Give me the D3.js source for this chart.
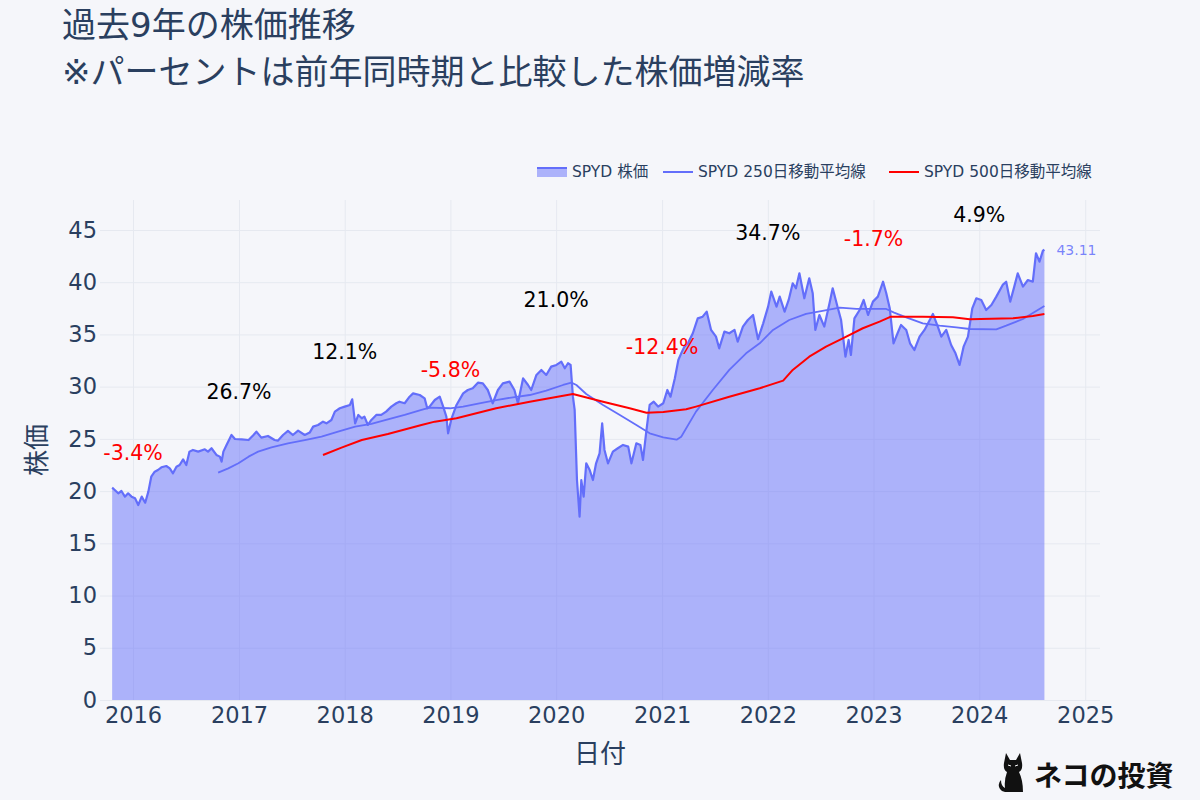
<!DOCTYPE html>
<html><head><meta charset="utf-8">
<script src="https://cdn.jsdelivr.net/npm/d3@7"></script>
<style>
html,body{margin:0;padding:0;background:#f5f6fa;}
svg{display:block;font-family:"DejaVu Sans","Noto Sans CJK JP",sans-serif;}
</style></head><body>
<svg id="chart" width="1200" height="800"></svg>
<script>
// ---------- data ----------
const priceDates = ["2015-10-21","2015-10-30","2015-11-11","2015-11-22","2015-12-04","2015-12-15","2015-12-27","2016-01-08","2016-01-19","2016-01-31","2016-02-12","2016-02-23","2016-03-04","2016-03-16","2016-03-27","2016-04-08","2016-04-25","2016-05-07","2016-05-18","2016-05-30","2016-06-10","2016-06-22","2016-07-03","2016-07-14","2016-07-26","2016-08-13","2016-09-05","2016-09-16","2016-09-28","2016-10-15","2016-10-27","2016-11-02","2016-11-08","2016-11-19","2016-12-06","2016-12-18","2017-01-10","2017-02-03","2017-02-20","2017-03-02","2017-03-19","2017-04-11","2017-05-04","2017-05-15","2017-06-02","2017-06-19","2017-07-06","2017-07-24","2017-08-16","2017-09-02","2017-09-14","2017-10-01","2017-10-18","2017-10-30","2017-11-16","2017-11-28","2017-12-15","2018-01-01","2018-01-19","2018-01-27","2018-02-06","2018-02-17","2018-03-01","2018-03-10","2018-03-22","2018-04-03","2018-04-20","2018-05-07","2018-05-24","2018-06-11","2018-06-28","2018-07-09","2018-07-27","2018-08-13","2018-08-25","2018-09-17","2018-10-04","2018-10-13","2018-10-21","2018-11-08","2018-11-25","2018-12-07","2018-12-18","2018-12-24","2019-01-05","2019-01-22","2019-02-14","2019-03-02","2019-03-19","2019-04-06","2019-04-23","2019-05-10","2019-05-27","2019-06-14","2019-07-01","2019-07-24","2019-08-10","2019-08-22","2019-09-09","2019-09-26","2019-10-07","2019-10-25","2019-11-11","2019-11-28","2019-12-15","2020-01-02","2020-01-19","2020-01-31","2020-02-11","2020-02-20","2020-02-28","2020-03-05","2020-03-13","2020-03-22","2020-03-28","2020-04-05","2020-04-14","2020-04-26","2020-05-07","2020-05-18","2020-05-30","2020-06-08","2020-06-16","2020-06-28","2020-07-15","2020-08-01","2020-08-19","2020-09-06","2020-09-17","2020-10-04","2020-10-18","2020-10-27","2020-11-08","2020-11-19","2020-12-03","2020-12-18","2021-01-05","2021-01-19","2021-01-30","2021-02-14","2021-02-26","2021-03-08","2021-03-19","2021-03-31","2021-04-17","2021-05-04","2021-05-21","2021-06-04","2021-06-19","2021-07-06","2021-07-17","2021-08-04","2021-08-21","2021-09-08","2021-09-19","2021-10-07","2021-10-24","2021-11-11","2021-11-28","2021-12-16","2022-01-02","2022-01-13","2022-01-31","2022-02-11","2022-02-28","2022-03-14","2022-03-28","2022-04-08","2022-04-20","2022-05-07","2022-05-24","2022-06-05","2022-06-14","2022-06-28","2022-07-15","2022-08-02","2022-08-13","2022-08-31","2022-09-11","2022-09-26","2022-10-07","2022-10-15","2022-10-27","2022-11-14","2022-11-28","2022-12-13","2022-12-30","2023-01-16","2023-02-03","2023-02-14","2023-02-26","2023-03-11","2023-03-25","2023-04-06","2023-04-24","2023-05-07","2023-05-22","2023-06-09","2023-06-26","2023-07-11","2023-07-25","2023-08-11","2023-08-23","2023-09-09","2023-09-26","2023-10-11","2023-10-25","2023-11-08","2023-11-23","2023-12-08","2023-12-22","2024-01-08","2024-01-25","2024-02-12","2024-02-29","2024-03-22","2024-04-03","2024-04-17","2024-05-01","2024-05-13","2024-05-31","2024-06-17","2024-07-04","2024-07-15","2024-07-27","2024-08-08","2024-08-13"];
const priceValues = [20.33,20.11,19.79,20.01,19.47,19.79,19.47,19.31,18.67,19.47,18.89,19.95,21.38,21.86,22.02,22.28,22.40,22.18,21.70,22.34,22.50,23.04,22.50,23.78,23.94,23.78,24.00,23.78,24.10,23.46,23.30,22.82,23.78,24.42,25.37,24.99,24.96,24.89,25.37,25.69,25.12,25.28,24.89,24.83,25.37,25.76,25.37,25.79,25.37,25.60,26.17,26.33,26.65,26.49,26.81,27.61,27.93,28.09,28.25,28.79,26.49,27.29,26.97,27.13,26.33,26.81,27.29,27.29,27.61,28.09,28.41,28.56,28.41,29.04,29.36,29.20,28.88,27.93,28.09,28.72,29.04,28.09,27.13,25.53,26.97,28.25,29.36,29.68,29.84,30.38,30.32,29.68,28.41,29.68,30.32,30.48,29.68,28.41,30.80,30.16,29.68,31.12,31.60,31.12,31.92,32.08,32.39,31.76,32.24,32.08,29.04,27.77,21.06,17.55,21.06,19.47,22.66,22.02,21.06,22.66,23.62,26.49,23.94,22.66,23.78,24.10,24.42,24.26,22.66,24.58,24.42,22.98,25.85,28.25,28.56,28.09,28.41,29.68,29.04,30.80,32.55,33.19,33.83,34.15,35.11,36.54,36.70,37.18,35.43,34.79,33.67,35.27,35.11,35.43,34.31,35.75,36.38,36.86,34.55,36.06,37.66,39.10,37.66,38.62,37.18,38.30,39.90,39.42,40.85,38.46,40.37,38.94,35.43,36.86,35.75,37.98,39.42,37.50,36.38,32.87,34.47,33.03,36.54,37.34,38.30,36.86,38.14,38.62,40.05,38.94,37.50,34.15,35.11,35.91,35.43,34.15,33.51,34.79,35.43,36.22,36.96,35.75,34.79,35.43,33.99,33.19,32.08,33.83,34.79,37.50,38.46,38.30,37.34,37.82,38.62,39.74,40.05,38.14,39.58,40.85,39.58,40.21,40.05,42.77,41.97,43.02,43.11];

const ma250Dates = ["2016-10-21","2016-11-25","2016-12-30","2017-02-03","2017-03-08","2017-04-23","2017-06-19","2017-08-16","2017-10-13","2017-12-09","2018-02-06","2018-04-03","2018-05-30","2018-07-27","2018-09-23","2018-10-21","2018-12-30","2019-02-14","2019-04-11","2019-06-08","2019-08-05","2019-10-02","2019-11-28","2020-01-25","2020-02-23","2020-03-11","2020-04-14","2020-06-11","2020-08-08","2020-10-04","2020-11-19","2021-01-05","2021-02-20","2021-03-08","2021-04-28","2021-06-25","2021-08-21","2021-10-18","2021-12-04","2022-01-19","2022-03-16","2022-05-13","2022-07-09","2022-09-06","2022-11-03","2022-12-30","2023-02-14","2023-03-13","2023-04-24","2023-06-20","2023-08-17","2023-10-14","2023-11-29","2024-02-29","2024-04-03","2024-05-31","2024-08-13"];
const ma250Values = [21.77,22.18,22.66,23.30,23.78,24.19,24.58,24.89,25.21,25.69,26.17,26.43,26.87,27.29,27.77,28.00,27.93,28.09,28.41,28.72,28.98,29.20,29.62,30.16,30.38,30.16,29.30,28.25,27.29,26.33,25.53,25.15,24.92,25.21,27.61,29.68,31.60,33.19,34.15,35.43,36.38,36.96,37.25,37.57,37.44,37.44,37.44,37.09,36.64,36.06,35.84,35.68,35.52,35.49,35.84,36.48,37.73];

const ma500Dates = ["2017-10-18","2017-12-21","2018-03-01","2018-05-30","2018-09-23","2018-11-08","2019-01-22","2019-06-08","2019-10-02","2020-02-28","2020-06-11","2020-09-11","2020-11-08","2021-01-05","2021-03-25","2021-04-28","2021-08-21","2021-12-04","2022-02-23","2022-03-28","2022-05-24","2022-07-21","2022-09-29","2022-11-25","2023-01-22","2023-03-02","2023-06-20","2023-10-02","2023-11-29","2024-04-27","2024-07-04","2024-08-13"];
const ma500Values = [23.46,24.16,24.89,25.47,26.33,26.65,26.97,27.93,28.56,29.30,28.56,27.93,27.51,27.58,27.83,28.09,29.04,29.85,30.58,31.60,32.87,33.83,34.79,35.59,36.22,36.70,36.70,36.64,36.45,36.54,36.77,36.96];

const changeDates = ["2016-01-01","2017-01-01","2018-01-01","2019-01-01","2020-01-01","2021-01-01","2022-01-01","2023-01-01","2024-01-01"];
const changeValues = [-3.4,26.7,12.1,-5.8,21.0,-12.4,34.7,-1.7,4.9];
const changeLabelY = [23.62,29.46,33.35,31.6,38.36,33.83,44.68,44.11,46.44];

const yTicks = [0,5,10,15,20,25,30,35,40,45];
const xTickYears = [2016,2017,2018,2019,2020,2021,2022,2023,2024,2025];

const titleLines = ["過去9年の株価推移","※パーセントは前年同時期と比較した株価増減率"];
const seriesNames = ["SPYD 株価","SPYD 250日移動平均線","SPYD 500日移動平均線"];
const xTitle = "日付", yTitle = "株価";
const watermark = "ネコの投資";

// ---------- layout ----------
const svg = d3.select("#chart");
const P = {left:100,right:1100,top:200,bottom:700};
const parse = d3.timeParse("%Y-%m-%d");
const x = d3.scaleTime().domain([parse("2015-09-09"), parse("2025-02-21")]).range([P.left,P.right]);
const y = d3.scaleLinear().domain([0,47.87]).range([P.bottom,P.top]);
const textCol = "#2a3f5f";
const blue = "#636efa";

svg.append("rect").attr("width",1200).attr("height",800).attr("fill","#f5f6fa");

// grid
const gx = svg.append("g").attr("transform",`translate(0,${P.bottom})`)
  .call(d3.axisBottom(x).tickValues(xTickYears.map(yr=>new Date(yr,0,1))).tickSize(-(P.bottom-P.top)).tickFormat(""));
gx.select(".domain").remove();
gx.selectAll("line").attr("stroke","#e6e9f0").attr("stroke-width",1);
const gy = svg.append("g").attr("transform",`translate(${P.left},0)`)
  .call(d3.axisLeft(y).tickValues(yTicks).tickSize(-(P.right-P.left)).tickFormat(""));
gy.select(".domain").remove();
gy.selectAll("line").attr("stroke","#e6e9f0").attr("stroke-width",1);

// tick labels
const xl = svg.append("g").attr("transform",`translate(0,${P.bottom})`)
  .call(d3.axisBottom(x).tickValues(xTickYears.map(yr=>new Date(yr,0,1))).tickSize(0).tickPadding(7).tickFormat(d3.timeFormat("%Y")));
xl.select(".domain").remove();
xl.selectAll("text").attr("fill",textCol).style("font-size","22.5px").style("font-family",'"DejaVu Sans",sans-serif');
const yl = svg.append("g").attr("transform",`translate(${P.left},0)`)
  .call(d3.axisLeft(y).tickValues(yTicks).tickSize(0).tickPadding(3).tickFormat(d3.format("d")));
yl.select(".domain").remove();
yl.selectAll("text").attr("fill",textCol).style("font-size","22.5px").style("font-family",'"DejaVu Sans",sans-serif');

// data
const price = priceDates.map((d,i)=>({d:parse(d),v:priceValues[i]}));
const ma250 = ma250Dates.map((d,i)=>({d:parse(d),v:ma250Values[i]}));
const ma500 = ma500Dates.map((d,i)=>({d:parse(d),v:ma500Values[i]}));

const area = d3.area().x(p=>x(p.d)).y0(y(0)).y1(p=>y(p.v));
const line = d3.line().x(p=>x(p.d)).y(p=>y(p.v));

svg.append("path").datum(price).attr("d",area).attr("fill","rgba(99,110,250,0.5)");
svg.append("path").datum(price).attr("d",line).attr("fill","none").attr("stroke",blue).attr("stroke-width",2.2).attr("stroke-linejoin","round");
svg.append("path").datum(ma250).attr("d",line).attr("fill","none").attr("stroke",blue).attr("stroke-width",1.8).attr("stroke-linejoin","round");
svg.append("path").datum(ma500).attr("d",line).attr("fill","none").attr("stroke","#ff0000").attr("stroke-width",2).attr("stroke-linejoin","round");

// last value label
const last = price[price.length-1];
svg.append("text").attr("x",x(last.d)+12).attr("y",y(last.v)).attr("dy","0.35em")
  .attr("fill",blue).attr("fill-opacity",0.85).style("font-size","14px").text(last.v.toFixed(2));

// change annotations
changeDates.forEach((d,i)=>{
  const v = changeValues[i];
  svg.append("text").attr("x",x(parse(d))).attr("y",y(changeLabelY[i])).attr("dy","0.35em")
    .attr("text-anchor","middle").attr("fill", v<0?"#ff0000":"#000000")
    .style("font-size","20.5px").text(v.toFixed(1)+"%");
});

// axis titles
svg.append("text").attr("x",(P.left+P.right)/2).attr("y",763).attr("text-anchor","middle")
  .attr("fill",textCol).style("font-size","26px").style("font-family",'"Noto Sans CJK JP",sans-serif').text(xTitle);
svg.append("text").attr("transform",`translate(46,${(P.top+P.bottom)/2}) rotate(-90)`).attr("text-anchor","middle")
  .attr("fill",textCol).style("font-size","26px").style("font-family",'"Noto Sans CJK JP",sans-serif').text(yTitle);

// title
titleLines.forEach((t,i)=>{
  svg.append("text").attr("x",62).attr("y",37+i*47).attr("fill",textCol)
    .style("font-size","34px").style("font-family",'"DejaVu Sans","Noto Sans CJK JP",sans-serif').text(t);
});

// legend
const lg = svg.append("g");
const legX = [537,663,889];
legX.forEach((lx,i)=>{
  if(i===0){
    lg.append("rect").attr("x",lx).attr("y",168).attr("width",30).attr("height",9).attr("fill","rgba(99,110,250,0.5)");
    lg.append("line").attr("x1",lx).attr("x2",lx+30).attr("y1",168).attr("y2",168).attr("stroke",blue).attr("stroke-width",2);
  } else {
    lg.append("line").attr("x1",lx).attr("x2",lx+30).attr("y1",172).attr("y2",172)
      .attr("stroke", i===1?blue:"#ff0000").attr("stroke-width",2);
  }
  lg.append("text").attr("x",lx+35).attr("y",172).attr("dy","0.35em").attr("fill",textCol)
    .style("font-size","15.5px").text(seriesNames[i]);
});

// watermark
const wm = svg.append("g");
wm.append("path").attr("fill","#111")
  .attr("d","M1006,753 L1010,760 L1016,760 L1020,753 L1022,763 Q1023,770 1019,772 Q1023,780 1023,792 L1005,792 Q1002,792 1000,789 Q997,784 1001,780 Q1001,786 1005,788 Q1004,780 1007,772 Q1003,770 1004,763 Z");
wm.append("path").attr("stroke","#fff").attr("stroke-width",1).attr("fill","none")
  .attr("d","M1008,765 l3,1 M1015,766 l3,-1");
wm.append("text").attr("x",1034).attr("y",786).attr("fill","#111")
  .style("font-size","28px").style("font-weight","bold").style("font-family",'"Noto Sans CJK JP",sans-serif').text(watermark);
</script>
</body></html>
